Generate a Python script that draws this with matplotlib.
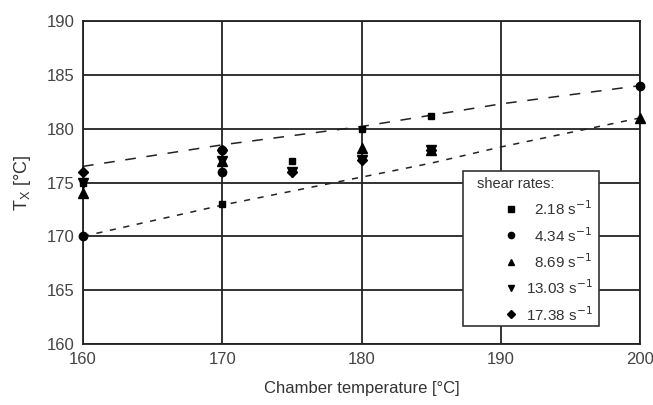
import matplotlib.pyplot as plt
from matplotlib.patches import Rectangle

plt.rcParams['font.family'] = ['Liberation Sans', 'DejaVu Sans']

# measured points, one list per shear rate
sq_x = [160, 170, 175, 180, 185]
sq_y = [175, 173, 177, 180, 181.2]
ci_x = [160, 170, 170, 200]
ci_y = [170, 176, 178, 184]
tu_x = [160, 170, 180, 185, 200]
tu_y = [174, 177, 178.2, 178, 181]
td_x = [160, 170, 175, 180, 185]
td_y = [175, 177, 176, 177.1, 178]
di_x = [160, 170, 175, 180, 185]
di_y = [176, 178, 176, 177.1, 178]

# dashed guide lines
up_x = [160, 170, 180, 190, 200]
up_y = [176.5, 178.5, 180.2, 182.3, 184.0]
lo_x = [160, 170, 175, 180, 185, 190, 200]
lo_y = [170, 172.9, 174.2, 175.5, 176.8, 178.3, 181]

labels = ["2.18 s$^{-1}$", "4.34 s$^{-1}$", "8.69 s$^{-1}$", "13.03 s$^{-1}$", "17.38 s$^{-1}$"]
markers = ["s", "o", "^", "v", "D"]
msizes = [5, 6, 6.5, 6.5, 5]

fig = plt.figure(figsize=(6.53, 4.05), dpi=100)
ax = fig.add_axes([0.1271, 0.1506, 0.853, 0.7975])

ax.plot(up_x, up_y, color="#222222", lw=1.1, dashes=(7, 7))
ax.plot(lo_x, lo_y, color="#222222", lw=1.1, dashes=(4, 5))

series = [(sq_x, sq_y), (ci_x, ci_y), (tu_x, tu_y), (td_x, td_y), (di_x, di_y)]
for (x, y), m, s in zip(series, markers, msizes):
    ax.plot(x, y, ls="none", marker=m, ms=s, color="black", clip_on=False, zorder=5)

ax.set_xlim(160, 200)
ax.set_ylim(160, 190)
ax.set_xticks([160, 170, 180, 190, 200])
ax.set_yticks([160, 165, 170, 175, 180, 185, 190])
ax.grid(True, color="#222222", lw=1.3)
for sp in ax.spines.values():
    sp.set_color("#222222")
    sp.set_linewidth(1.3)
ax.tick_params(length=0, labelsize=12, labelcolor="#444444", pad=6)

ax.set_xlabel("Chamber temperature [°C]", fontsize=12, color="#333333", labelpad=10)
ax.set_ylabel("T$_\\mathregular{X}$ [°C]", fontsize=13, color="#333333", labelpad=10)

# legend box drawn by hand
lx0, lx1, ly0, ly1 = 0.682, 0.926, 0.056, 0.536
ax.add_patch(Rectangle((lx0, ly0), lx1 - lx0, ly1 - ly0, transform=ax.transAxes,
                       facecolor="white", edgecolor="#333333", lw=1.2, zorder=6))
ax.text(lx0 + 0.025, ly1 - 0.04, "shear rates:", transform=ax.transAxes, fontsize=10.5,
        color="#333333", va="center", ha="left", zorder=7)
for i, (lab, m, s) in enumerate(zip(labels, markers, msizes)):
    yy = 0.418 - i * 0.0815
    ax.plot([0.7688], [yy], transform=ax.transAxes, marker=m, ms=s * 0.75, color="black",
            ls="none", zorder=7, clip_on=False)
    ax.text(0.915, yy, lab, transform=ax.transAxes, fontsize=11, color="#333333",
            ha="right", va="center", zorder=7)

fig.savefig("out.png", dpi=100)
